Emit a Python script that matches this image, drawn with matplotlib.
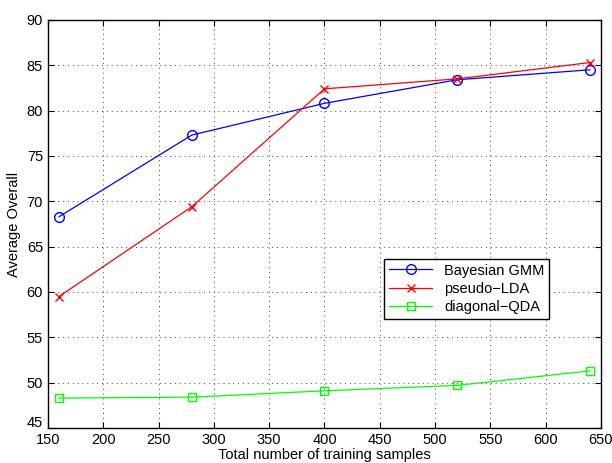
import matplotlib
matplotlib.use("Agg")
import matplotlib.pyplot as plt
import matplotlib.transforms as mtransforms

x = [160, 280, 400, 520, 640]
gmm = [68.3, 77.3, 80.8, 83.4, 84.5]
lda = [59.5, 69.4, 82.4, 83.5, 85.3]
qda = [48.3, 48.4, 49.1, 49.7, 51.3]
xticks = list(range(150, 651, 50))
yticks = list(range(45, 91, 5))

plt.rcParams['font.family'] = ['Liberation Sans', 'DejaVu Sans']
fig = plt.figure(figsize=(6.12, 4.63), dpi=100)
ax = fig.add_axes([0.0784, 0.0756, 0.9036, 0.8814])
ax.plot(x, gmm, color='#0000ff', marker='o', markersize=7, markerfacecolor='none',
        markeredgecolor='#0000ff', linewidth=0.9, label='Bayesian GMM')
ax.plot(x, lda, color='#ff0000', marker='x', markersize=6, linewidth=0.9, label='pseudo\u2212LDA')
ax.plot(x, qda, color='#00ff00', marker='s', markersize=6, markerfacecolor='none',
        markeredgecolor='#00ff00', linewidth=0.9, label='diagonal\u2212QDA')
ax.set_xlim(150, 650)
ax.set_ylim(45, 90)
ax.set_xticks(xticks)
ax.set_yticks(yticks)
ax.tick_params(direction='in', top=True, right=True, labelsize=10.5, length=4)
ax.grid(True, linestyle=(0, (1, 4)), color='#444444', linewidth=0.7)
ax.set_xlabel('Total number of training samples', fontsize=10.5, labelpad=1)
ax.set_ylabel('Average Overall', fontsize=10.5)
for s in ax.spines.values():
    s.set_linewidth(1.0)
# raise the lowest y tick label so it does not collide with the first x label
fig.canvas.draw()
lbl = ax.get_yticklabels()[0]
lbl.set_transform(lbl.get_transform() + mtransforms.ScaledTranslation(0, 5 / 72, fig.dpi_scale_trans))
leg = ax.legend(loc='lower left', bbox_to_anchor=(0.595, 0.25), fontsize=10.5,
                fancybox=False, framealpha=1, edgecolor='black', borderpad=0.3,
                handlelength=3, labelspacing=0.3)
leg.get_frame().set_linewidth(1.0)
fig.savefig('out.png', dpi=100)
